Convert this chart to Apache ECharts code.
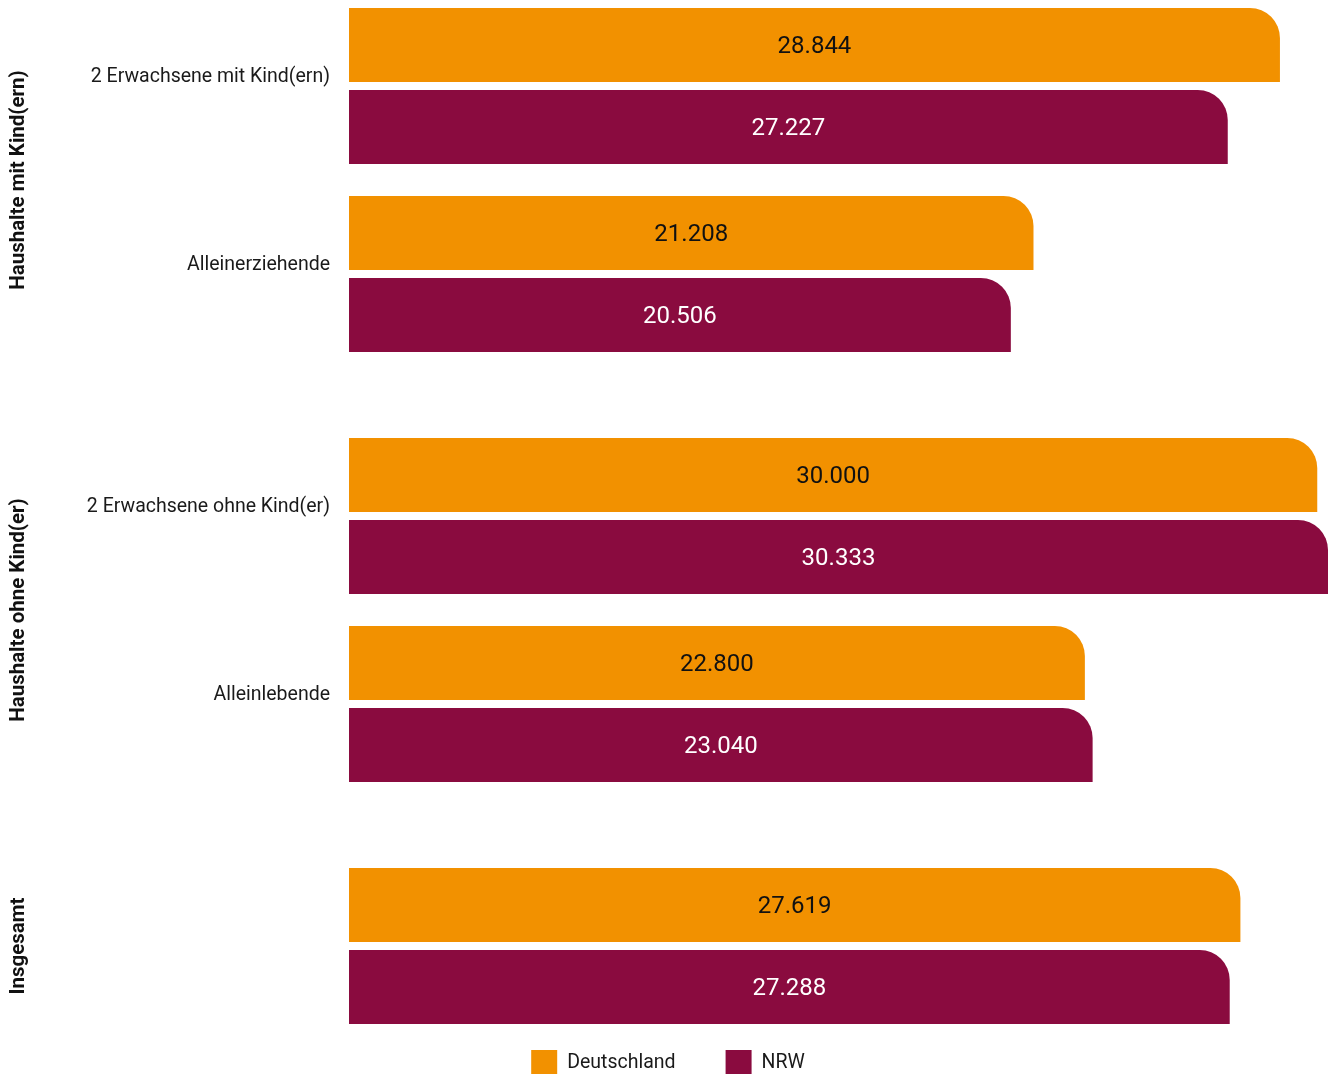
<!DOCTYPE html>
<html>
<head>
<meta charset="utf-8">
<script src="https://cdn.jsdelivr.net/npm/echarts@6/dist/echarts.min.js"></script>
<style>
html,body{margin:0;padding:0;background:#fff;overflow:hidden;}
#chart{position:absolute;left:0;top:-8px;width:1336px;height:1082px;}
</style>
</head>
<body>
<div id="chart"></div>
<script>
// Data
const sectionNames = ['Haushalte mit Kind(ern)', 'Haushalte ohne Kind(er)', 'Insgesamt'];
const categoriesMit = ['2 Erwachsene mit Kind(ern)', 'Alleinerziehende'];
const deutschlandMit = [28844, 21208];
const nrwMit = [27227, 20506];
const categoriesOhne = ['2 Erwachsene ohne Kind(er)', 'Alleinlebende'];
const deutschlandOhne = [30000, 22800];
const nrwOhne = [30333, 23040];
const categoriesGesamt = [''];
const deutschlandGesamt = [27619];
const nrwGesamt = [27288];
const seriesNames = ['Deutschland', 'NRW'];

const ORANGE = '#F29100';
const PURPLE = '#8A0B3F';
const FONT = 'Roboto';
const xMax = 30333;

function fmt(v){ return String(v).replace(/\B(?=(\d{3})+(?!\d))/g, '.'); }

const grids = [
  {left: 348, right: 8, top: 0, height: 376},
  {left: 348, right: 8, top: 430, height: 376},
  {left: 348, right: 8, top: 860, height: 188}
];
const cats = [categoriesMit, categoriesOhne, categoriesGesamt];
const de = [deutschlandMit, deutschlandOhne, deutschlandGesamt];
const nrw = [nrwMit, nrwOhne, nrwGesamt];

const xAxes = grids.map((g,i)=>({gridIndex:i, type:'value', min:0, max:xMax, show:false}));
const yAxes = grids.map((g,i)=>({
  gridIndex:i, type:'category', data:cats[i], inverse:true,
  axisLine:{show:false}, axisTick:{show:false}, splitLine:{show:false},
  axisLabel:{margin:19, fontSize:19.5, color:'#1a1a1a', fontFamily:FONT, verticalAlign:'bottom', lineHeight:18},
  name: sectionNames[i], nameLocation:'middle', nameRotate:90, nameGap:320,
  nameTextStyle:{fontSize:20.5, fontWeight:'bold', color:'#111', fontFamily:FONT}
}));

const series = [];
grids.forEach((g,i)=>{
  series.push({
    name: seriesNames[0], type:'bar', xAxisIndex:i, yAxisIndex:i, data: de[i],
    barWidth:74, barGap:'10.8%',
    itemStyle:{color:ORANGE, borderRadius:[0,30,0,0]},
    label:{show:true, position:'inside', offset:[0,2], color:'#111', fontSize:24, fontFamily:FONT, formatter:p=>fmt(p.value)}
  });
  series.push({
    name: seriesNames[1], type:'bar', xAxisIndex:i, yAxisIndex:i, data: nrw[i],
    barWidth:74, barGap:'10.8%',
    itemStyle:{color:PURPLE, borderRadius:[0,30,0,0]},
    label:{show:true, position:'inside', offset:[0,2], color:'#fff', fontSize:24, fontFamily:FONT, formatter:p=>fmt(p.value)}
  });
});

const chart = echarts.init(document.getElementById('chart'));
chart.setOption({
  animation:false,
  grid: grids,
  xAxis: xAxes,
  yAxis: yAxes,
  legend:{
    data: seriesNames, left:'center', top:1053, itemWidth:26, itemHeight:26, itemGap:50,
    icon:'rect', textStyle:{fontSize:19.5, color:'#1a1a1a', fontFamily:FONT, padding:[3,0,0,5]}
  },
  series: series
});
</script>
</body>
</html>
